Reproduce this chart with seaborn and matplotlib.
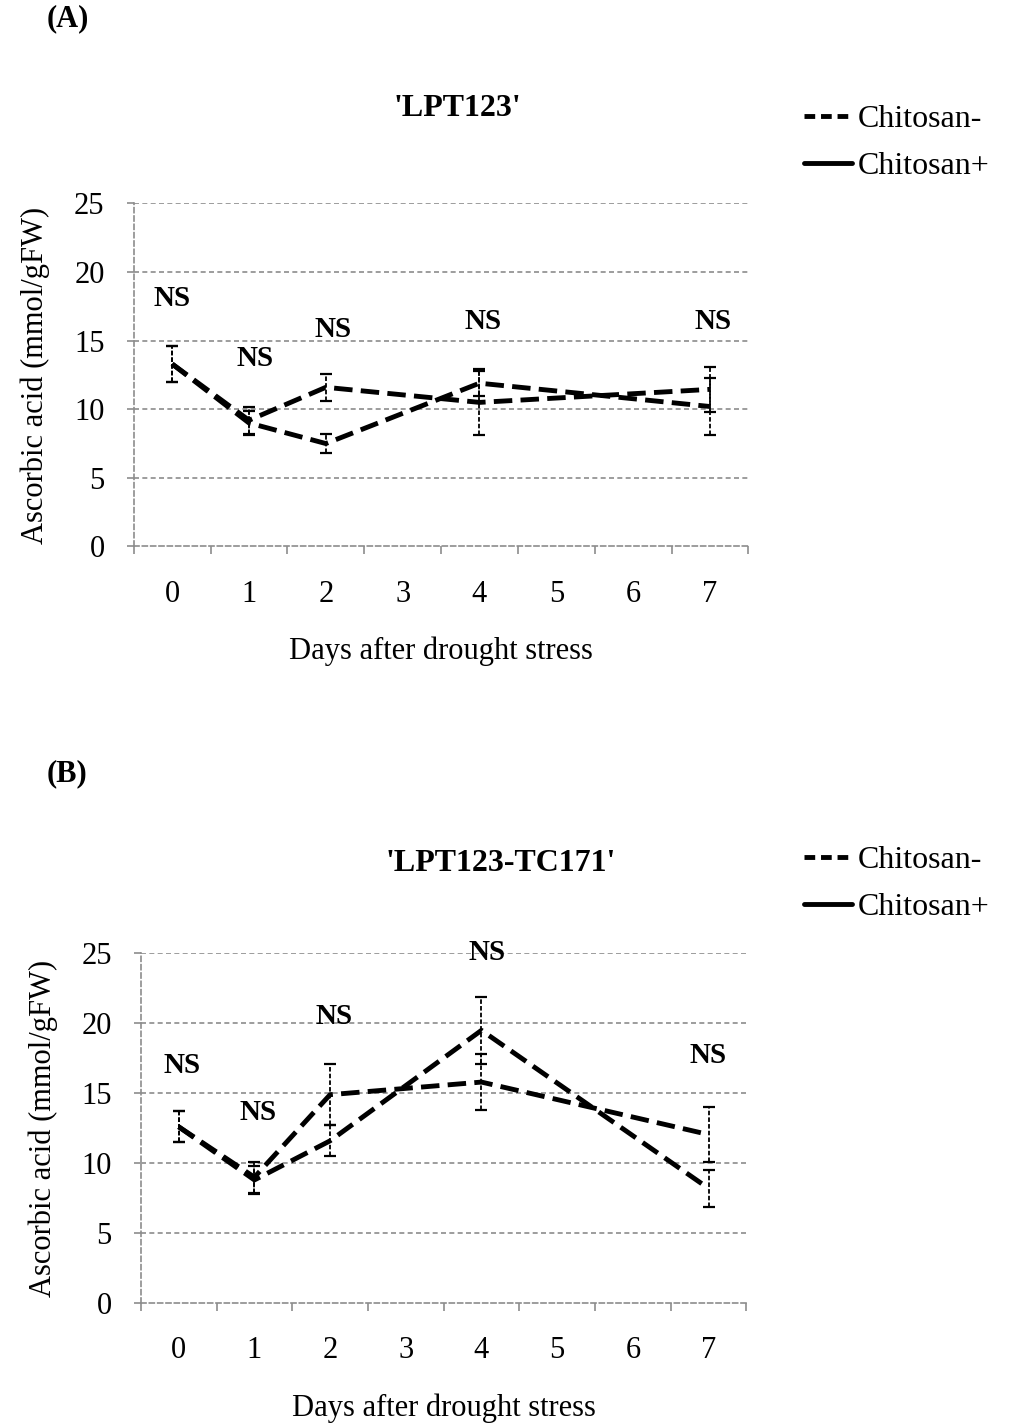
import pandas as pd
import seaborn as sns
import matplotlib.pyplot as plt
from matplotlib.lines import Line2D

# Datos
days = [0, 1, 2, 4, 7]
day_ticks = [0, 1, 2, 3, 4, 5, 6, 7]
series_names = ["Chitosan-", "Chitosan+"]

a_minus = [13.3, 9.2, 11.6, 10.5, 11.45]
a_minus_err = [1.3, 1.0, 1.0, 2.4, 1.65]
a_plus = [13.3, 9.0, 7.5, 11.9, 10.2]
a_plus_err = [1.3, 0.9, 0.7, 0.9, 2.1]
a_ns_y = [18.1, 13.7, 15.8, 16.4, 16.4]

b_minus = [12.6, 9.0, 14.9, 15.8, 12.05]
b_minus_err = [1.1, 1.1, 2.2, 2.0, 2.0]
b_plus = [12.6, 8.8, 11.6, 19.5, 8.2]
b_plus_err = [1.1, 1.0, 1.1, 2.4, 1.3]
b_ns_y = [17.0, 13.6, 20.5, 25.1, 17.7]

titles = ["'LPT123'", "'LPT123-TC171'"]
panel_tags = ["(A)", "(B)"]

sns.set_theme(style="white")
plt.rcParams["font.family"] = ["Liberation Serif", "DejaVu Serif"]
plt.rcParams.update({"text.color": "black", "axes.labelcolor": "black",
                     "xtick.color": "black", "ytick.color": "black"})

fig = plt.figure(figsize=(10.21, 14.23), dpi=100)
ax_a = fig.add_axes([0.131, 0.616, 0.602, 0.241])
ax_b = fig.add_axes([0.138, 0.0843, 0.593, 0.2457])

grid_col = "#8c8c8c"
fs = 22


def draw_panel(ax, minus, minus_err, plus, plus_err, ns_y, title, title_xy,
               ns_dx):
    df = pd.DataFrame({
        "day": days * 2,
        "value": minus + plus,
        "series": [series_names[0]] * len(days) + [series_names[1]] * len(days),
    })
    sns.lineplot(data=df, x="day", y="value", hue="series",
                 palette=["black", "black"], linewidth=3.5, errorbar=None,
                 legend=False, ax=ax, zorder=3)
    for ln in ax.get_lines():
        ln.set_dashes((3.8, 1.7))
    for vals, errs in [(minus, minus_err), (plus, plus_err)]:
        eb = ax.errorbar(days, vals, yerr=errs, fmt="none", ecolor="black",
                         elinewidth=1.3, capsize=4, capthick=1.6, zorder=4)
        eb[2][0].set_linestyle((0, (2.5, 1.2)))
    for d, y, dx in zip(days, ns_y, ns_dx):
        ax.text(d + dx, y, "NS", ha="center", va="center", fontsize=21,
                fontweight="bold")

    ax.set_xlim(-0.5, 7.5)
    ax.set_ylim(0, 25)
    ax.set_yticks([0, 5, 10, 15, 20, 25])
    ax.set_xticks(day_ticks)
    ax.set_xticks([t - 0.5 for t in day_ticks] + [7.5], minor=True)
    ax.tick_params(axis="x", which="major", length=0, pad=24, labelsize=fs)
    ax.tick_params(axis="x", which="minor", length=6, color=grid_col,
                   width=1.2, direction="out", bottom=True)
    ax.tick_params(axis="y", length=5, color=grid_col, width=1.2,
                   direction="out", left=True, pad=16, labelsize=fs)
    for y in [5, 10, 15, 20, 25]:
        ax.axhline(y, color=grid_col, linewidth=1.2, linestyle=(0, (3, 2)),
                   zorder=1)
    for side in ["top", "right"]:
        ax.spines[side].set_visible(False)
    for side in ["left", "bottom"]:
        ax.spines[side].set_color(grid_col)
        ax.spines[side].set_linewidth(1.2)
        ax.spines[side].set_linestyle((0, (3, 2)))
    ax.set_xlabel("Days after drought stress", fontsize=fs, labelpad=20)
    ax.set_ylabel("Ascorbic acid (mmol/gFW)", fontsize=fs, labelpad=17)
    ax.text(title_xy[0], title_xy[1], title, fontsize=23, fontweight="bold",
            ha="center", va="center", clip_on=False)


draw_panel(ax_a, a_minus, a_minus_err, a_plus, a_plus_err, a_ns_y, titles[0],
           (3.71, 31.9), [0.0, 0.08, 0.1, 0.05, 0.04])
draw_panel(ax_b, b_minus, b_minus_err, b_plus, b_plus_err, b_ns_y, titles[1],
           (4.26, 31.4), [0.05, 0.05, 0.05, 0.07, 0.0])

fig.text(47 / 1021, 1 - 19 / 1423, panel_tags[0], fontsize=22,
         fontweight="bold", va="center")
fig.text(47 / 1021, 1 - 774 / 1423, panel_tags[1], fontsize=22,
         fontweight="bold", va="center")

handles = [Line2D([], [], color="black", linewidth=3.5, dashes=(2.2, 1.2)),
           Line2D([], [], color="black", linewidth=3.5)]
for yy in [92, 833]:
    fig.legend(handles, series_names, loc="upper left",
               bbox_to_anchor=(791 / 1021, 1 - yy / 1423), frameon=False,
               fontsize=23, handlelength=1.5, handletextpad=0.2,
               labelspacing=0.55, borderaxespad=0)

fig.savefig("out.png", dpi=100)
